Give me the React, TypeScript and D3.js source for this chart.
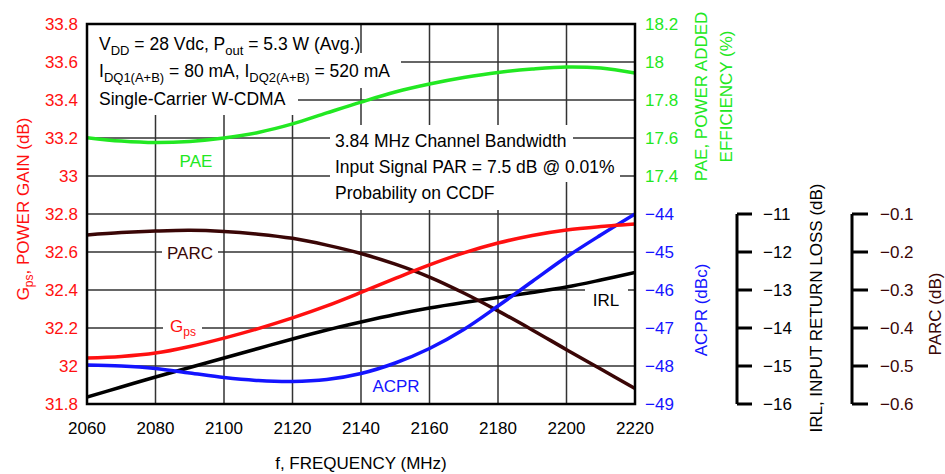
import React from "react";
import * as d3 from "d3";

// Frequency grid (MHz)
const freq = [2060, 2070, 2080, 2090, 2100, 2110, 2120, 2130, 2140, 2150, 2160, 2170, 2180, 2190, 2200, 2210, 2220];

// Series values at each frequency
const gps = [32.042, 32.05, 32.068, 32.103, 32.147, 32.197, 32.253, 32.316, 32.387, 32.461, 32.532, 32.595, 32.647, 32.687, 32.716, 32.734, 32.747];
const pae = [17.602, 17.584, 17.576, 17.582, 17.6, 17.629, 17.674, 17.732, 17.789, 17.842, 17.884, 17.918, 17.945, 17.963, 17.974, 17.968, 17.942];
const acpr = [-47.974, -48.0, -48.066, -48.184, -48.303, -48.382, -48.408, -48.355, -48.197, -47.921, -47.539, -47.039, -46.421, -45.776, -45.132, -44.553, -44.0];
const irl = [-15.816, -15.553, -15.289, -15.039, -14.789, -14.539, -14.289, -14.053, -13.842, -13.645, -13.474, -13.329, -13.197, -13.066, -12.921, -12.737, -12.539];
const parc = [-0.155, -0.149, -0.145, -0.143, -0.146, -0.153, -0.164, -0.182, -0.204, -0.232, -0.266, -0.308, -0.355, -0.405, -0.457, -0.508, -0.559];

// Tick values
const xTicks = [2060, 2080, 2100, 2120, 2140, 2160, 2180, 2200, 2220];
const gpsTicks = [31.8, 32, 32.2, 32.4, 32.6, 32.8, 33, 33.2, 33.4, 33.6, 33.8];
const paeTicks = [17.4, 17.6, 17.8, 18, 18.2];
const acprTicks = [-49, -48, -47, -46, -45, -44];
const irlTicks = [-16, -15, -14, -13, -12, -11];
const parcTicks = [-0.6, -0.5, -0.4, -0.3, -0.2, -0.1];

const FONT = "'Liberation Sans', Arial, Helvetica, sans-serif";
const RED = "#ff1010";
const GREEN = "#22e822";
const BLUE = "#1414ff";
const BROWN = "#3a0606";

const L = 87, R = 635, T = 24, B = 404;

const x = d3.scaleLinear().domain([2060, 2220]).range([L, R]);
const yGps = d3.scaleLinear().domain([31.8, 33.8]).range([B, T]);
const yPae = d3.scaleLinear().domain([16.2, 18.2]).range([B, T]);
const yAcpr = d3.scaleLinear().domain([-49, -39]).range([B, T]);
const yIrl = d3.scaleLinear().domain([-16, -6]).range([B, T]);
const yParc = d3.scaleLinear().domain([-0.6, 0.4]).range([B, T]);

const minus = (s: string) => s.replace("-", "\u2013");

function path(values: number[], y: d3.ScaleLinear<number, number>) {
  const line = d3
    .line<number>()
    .x((_, i) => x(freq[i]))
    .y((v) => y(v))
    .curve(d3.curveCatmullRom.alpha(0.5));
  return line(values) || "";
}

export default function App() {
  const series = [
    { v: irl, y: yIrl, c: "#000" },
    { v: parc, y: yParc, c: BROWN },
    { v: acpr, y: yAcpr, c: BLUE },
    { v: gps, y: yGps, c: RED },
    { v: pae, y: yPae, c: GREEN },
  ];
  const fmt = d3.format("~g");
  return (
    <div style={{ position: "absolute", left: 0, top: 0 }}>
      <svg width={945} height={474} style={{ display: "block", fontFamily: FONT }}>
        <rect x={0} y={0} width={945} height={474} fill="#fff" />
        <defs>
          <clipPath id="plot">
            <rect x={L} y={T} width={R - L} height={B - T} />
          </clipPath>
        </defs>

        {/* grid */}
        <g stroke="#333" strokeWidth={1.5}>
          {xTicks.slice(1, -1).map((t) => (
            <line key={"gx" + t} x1={x(t)} x2={x(t)} y1={T} y2={B} />
          ))}
          {gpsTicks.slice(1, -1).map((t) => (
            <line key={"gy" + t} x1={L} x2={R} y1={yGps(t)} y2={yGps(t)} />
          ))}
        </g>

        {/* knock-out backgrounds behind annotations */}
        <g fill="#fff">
          <rect x={L + 1} y={T + 1} width={271} height={29} />
          <rect x={L + 1} y={53} width={313} height={35} />
          <rect x={L + 1} y={88} width={210} height={27} />
          <rect x={330} y={125} width={243} height={26} />
          <rect x={330} y={151} width={290} height={31} />
          <rect x={330} y={182} width={173} height={28} />
          <rect x={162} y={244} width={56} height={17} />
          <rect x={163} y={320} width={39} height={16} />
          <rect x={585} y={284} width={43} height={14} />
        </g>

        {/* curves */}
        <g clipPath="url(#plot)" fill="none" strokeWidth={3.5} strokeLinecap="round">
          {series.map((s, i) => (
            <path key={i} d={path(s.v, s.y)} stroke={s.c} />
          ))}
        </g>

        {/* plot frame */}
        <rect x={L} y={T} width={R - L} height={B - T} fill="none" stroke="#000" strokeWidth={2.5} />

        {/* left axis */}
        <g fontSize={17} fill={RED} textAnchor="end">
          {gpsTicks.map((t) => (
            <text key={"lt" + t} x={78} y={yGps(t) + 6}>
              {fmt(t)}
            </text>
          ))}
        </g>
        <text transform="translate(28.5,209) rotate(-90)" textAnchor="middle" fontSize={17} fill={RED}>
          G<tspan fontSize={12} dy={4}>ps</tspan>
          <tspan dy={-4}>, POWER GAIN (dB)</tspan>
        </text>

        {/* right axes: PAE and ACPR */}
        <g fontSize={17} fill={GREEN}>
          {paeTicks.map((t) => (
            <text key={"pt" + t} x={645} y={yPae(t) + 6}>
              {fmt(t)}
            </text>
          ))}
        </g>
        <g fontSize={17} fill={BLUE}>
          {acprTicks.map((t) => (
            <text key={"at" + t} x={645} y={yAcpr(t) + 6}>
              {minus(fmt(t))}
            </text>
          ))}
        </g>
        <text transform="translate(707,96.5) rotate(-90)" textAnchor="middle" fontSize={17} fill={GREEN}>
          PAE, POWER ADDED
        </text>
        <text transform="translate(732,96.5) rotate(-90)" textAnchor="middle" fontSize={17} fill={GREEN}>
          EFFICIENCY (%)
        </text>
        <text transform="translate(707,310) rotate(-90)" textAnchor="middle" fontSize={17} fill={BLUE}>
          ACPR (dBc)
        </text>

        {/* IRL bracket axis */}
        <g stroke="#000" strokeWidth={3} fill="none">
          <line x1={737} x2={737} y1={yIrl(-16)} y2={yIrl(-11)} />
          {irlTicks.map((t) => (
            <line key={"ik" + t} x1={737} x2={752} y1={yIrl(t)} y2={yIrl(t)} />
          ))}
        </g>
        <g fontSize={17} fill="#000">
          {irlTicks.map((t) => (
            <text key={"it" + t} x={763} y={yIrl(t) + 6}>
              {minus(fmt(t))}
            </text>
          ))}
        </g>
        <text transform="translate(822,308) rotate(-90)" textAnchor="middle" fontSize={17} fill="#000">
          IRL, INPUT RETURN LOSS (dB)
        </text>

        {/* PARC bracket axis */}
        <g stroke="#000" strokeWidth={3} fill="none">
          <line x1={852} x2={852} y1={yParc(-0.6)} y2={yParc(-0.1)} />
          {parcTicks.map((t) => (
            <line key={"qk" + t} x1={852} x2={868} y1={yParc(t)} y2={yParc(t)} />
          ))}
        </g>
        <g fontSize={17} fill={BROWN}>
          {parcTicks.map((t) => (
            <text key={"qt" + t} x={880} y={yParc(t) + 6}>
              {minus(d3.format(".1f")(t))}
            </text>
          ))}
        </g>
        <text transform="translate(941,314) rotate(-90)" textAnchor="middle" fontSize={17} fill={BROWN}>
          PARC (dB)
        </text>

        {/* bottom axis */}
        <g fontSize={17} fill="#000" textAnchor="middle">
          {xTicks.map((t) => (
            <text key={"xt" + t} x={x(t)} y={434}>
              {t}
            </text>
          ))}
        </g>
        <text x={(L + R) / 2} y={469} textAnchor="middle" fontSize={17} fill="#000">
          f, FREQUENCY (MHz)
        </text>

        {/* operating conditions */}
        <g fontSize={17.5} fill="#000">
          <text x={99} y={50}>
            V<tspan fontSize={13} dy={5}>DD</tspan>
            <tspan dy={-5}> = 28 Vdc, P</tspan>
            <tspan fontSize={13} dy={5}>out</tspan>
            <tspan dy={-5}> = 5.3 W (Avg.)</tspan>
          </text>
          <text x={99} y={77}>
            I<tspan fontSize={13} dy={5}>DQ1(A+B)</tspan>
            <tspan dy={-5}> = 80 mA, I</tspan>
            <tspan fontSize={13} dy={5}>DQ2(A+B)</tspan>
            <tspan dy={-5}> = 520 mA</tspan>
          </text>
          <text x={99} y={105}>Single-Carrier W-CDMA</text>
          <text x={335} y={146.5}>3.84 MHz Channel Bandwidth</text>
          <text x={335} y={173}>Input Signal PAR = 7.5 dB @ 0.01%</text>
          <text x={335} y={198.5}>Probability on CCDF</text>
        </g>

        {/* curve labels */}
        <g fontSize={17}>
          <text x={196} y={167} textAnchor="middle" fill={GREEN}>PAE</text>
          <text x={190} y={259} textAnchor="middle" fill={BROWN}>PARC</text>
          <text x={170} y={332} fill={RED}>
            G<tspan fontSize={12} dy={4}>ps</tspan>
          </text>
          <text x={606} y={306} textAnchor="middle" fill="#000">IRL</text>
          <text x={396} y={392} textAnchor="middle" fill={BLUE}>ACPR</text>
        </g>
      </svg>
    </div>
  );
}
